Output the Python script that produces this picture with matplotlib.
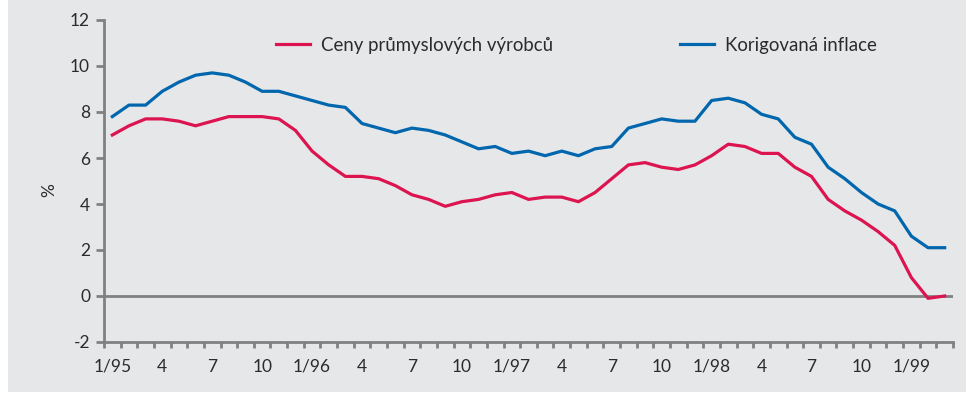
import numpy as np
import matplotlib
matplotlib.use("Agg")
import matplotlib.pyplot as plt
from matplotlib.patches import Rectangle

plt.rcParams['font.family'] = ['Lato', 'DejaVu Sans']

# Monthly year-on-year growth, 1/1995 - 3/1999 (%)
ceny_prumyslovych_vyrobcu = [
    7.0, 7.4, 7.7, 7.7, 7.6, 7.4, 7.6, 7.8, 7.8, 7.8, 7.7, 7.2,
    6.3, 5.7, 5.2, 5.2, 5.1, 4.8, 4.4, 4.2, 3.9, 4.1, 4.2, 4.4,
    4.5, 4.2, 4.3, 4.3, 4.1, 4.5, 5.1, 5.7, 5.8, 5.6, 5.5, 5.7,
    6.1, 6.6, 6.5, 6.2, 6.2, 5.6, 5.2, 4.2, 3.7, 3.3, 2.8, 2.2,
    0.8, -0.1, 0.0,
]
korigovana_inflace = [
    7.8, 8.3, 8.3, 8.9, 9.3, 9.6, 9.7, 9.6, 9.3, 8.9, 8.9, 8.7,
    8.5, 8.3, 8.2, 7.5, 7.3, 7.1, 7.3, 7.2, 7.0, 6.7, 6.4, 6.5,
    6.2, 6.3, 6.1, 6.3, 6.1, 6.4, 6.5, 7.3, 7.5, 7.7, 7.6, 7.6,
    8.5, 8.6, 8.4, 7.9, 7.7, 6.9, 6.6, 5.6, 5.1, 4.5, 4.0, 3.7,
    2.6, 2.1, 2.1,
]
tick_labels = ['1/95', '4', '7', '10', '1/96', '4', '7', '10', '1/97',
               '4', '7', '10', '1/98', '4', '7', '10', '1/99']
series_names = ['Ceny průmyslových výrobců', 'Korigovaná inflace']
y_ticks = [-2, 0, 2, 4, 6, 8, 10, 12]

BG = '#e6e7e9'
RED = '#dc1450'
BLUE = '#0066ad'
AXIS = '#808080'
TEXT = '#2b2b2b'

W, H = 974, 394
fig = plt.figure(figsize=(W / 100, H / 100), dpi=100, facecolor='white')
fig.patches.append(Rectangle((8 / W, 2 / H), (966 - 8) / W, 392 / H,
                             transform=fig.transFigure, facecolor=BG,
                             edgecolor='none', zorder=-10))

ax = fig.add_axes([104 / W, 1 - 342 / H, (953 - 104) / W, (342 - 20) / H])
ax.set_facecolor('none')

n = len(korigovana_inflace)
x = np.arange(n)

ax.axhline(0, color=AXIS, lw=2.0, zorder=1)
l1, = ax.plot(x, ceny_prumyslovych_vyrobcu, color=RED, lw=2.3, zorder=3,
              label=series_names[0])
l2, = ax.plot(x, korigovana_inflace, color=BLUE, lw=2.3, zorder=3,
              label=series_names[1])

ax.set_xlim(-0.5, n - 0.5)
ax.set_ylim(-2, 12)

for side in ('top', 'right'):
    ax.spines[side].set_visible(False)
for side in ('left', 'bottom'):
    ax.spines[side].set_color(AXIS)
    ax.spines[side].set_linewidth(2.0)

ax.set_yticks(y_ticks)
ax.set_yticklabels([str(v) for v in y_ticks])
ax.tick_params(axis='y', direction='out', length=6, width=2, color=AXIS,
               labelsize=12.5, labelcolor=TEXT, pad=4)

# month boundaries as short ticks, quarter labels centred on their month
ax.set_xticks(np.arange(-0.5, n, 1.0))
ax.tick_params(axis='x', which='major', direction='out', length=4, width=2,
               color=AXIS, labelbottom=False)
ax.set_xticks(x[::3], minor=True)
ax.set_xticklabels(tick_labels, minor=True)
ax.tick_params(axis='x', which='minor', length=0, labelsize=12.5,
               labelcolor=TEXT, pad=12)

ax.set_ylabel('%', fontsize=12.5, color=TEXT)
ax.yaxis.set_label_coords(-(104 - 57) / 849, 0.472)

common = dict(loc='center left', bbox_transform=fig.transFigure,
              frameon=False, borderpad=0, borderaxespad=0,
              handlelength=1.85, handletextpad=0.55, fontsize=13.4,
              labelcolor=TEXT)
leg1 = ax.legend([l1], [series_names[0]],
                 bbox_to_anchor=(276 / W, 1 - 45 / H), **common)
ax.add_artist(leg1)
ax.legend([l2], [series_names[1]],
          bbox_to_anchor=(680 / W, 1 - 45 / H), **common)

fig.savefig('out.png', dpi=100, facecolor=fig.get_facecolor())
